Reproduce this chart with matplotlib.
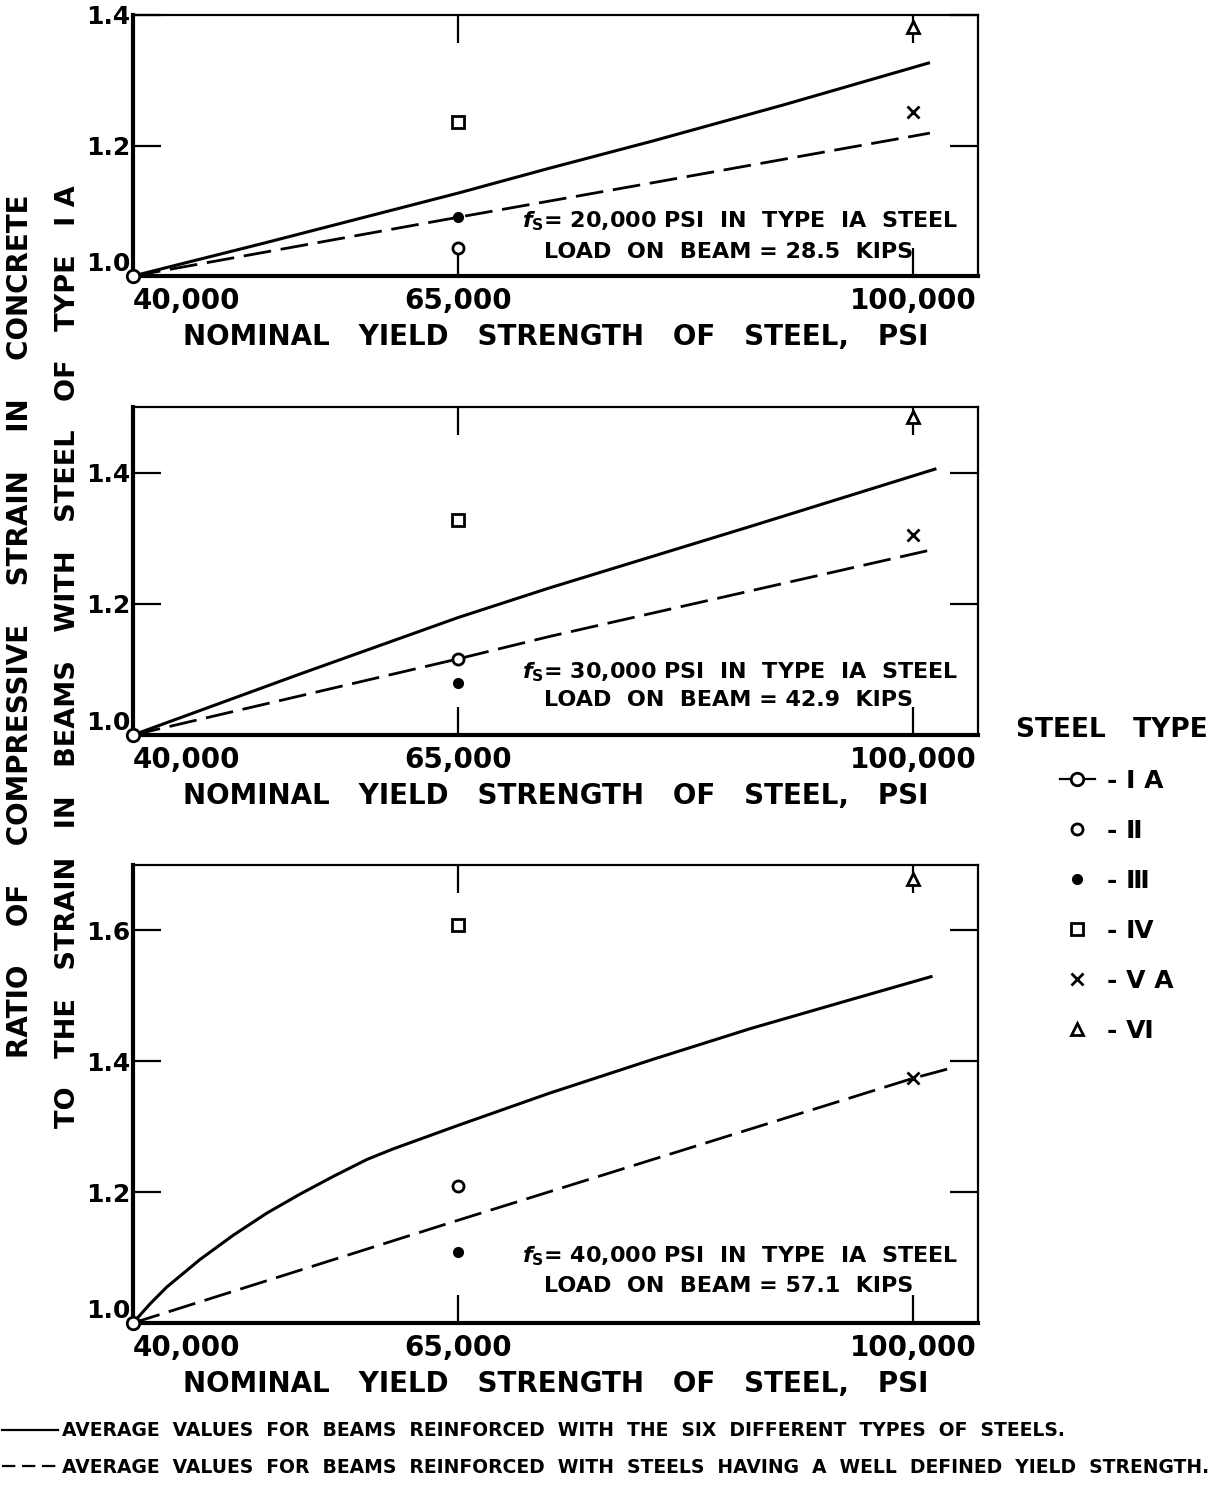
import matplotlib.pyplot as plt
from matplotlib.lines import Line2D

# ----------------------------------------------
# data (yield strength in psi)
# ----------------------------------------------
yield_ticks = [40000, 65000, 100000]
yield_labels = ["40,000", "65,000", "100,000"]

steel_types = ["\u2160 A", "\u2161", "\u2162", "\u2163", "\u2164 A", "\u2165"]
type_yield = [40000, 65000, 65000, 65000, 100000, 100000]

# fs = 20,000 psi
p1_ratio = [1.0, 1.043, 1.091, 1.236, 1.251, 1.381]
p1_solid_x = [40000, 50000, 65000, 72000, 80000, 90000, 101300]
p1_solid_y = [1.0, 1.050, 1.127, 1.165, 1.207, 1.262, 1.327]
p1_dash_x = [40000, 65000, 80000, 101300]
p1_dash_y = [1.0, 1.090, 1.143, 1.219]

# fs = 30,000 psi
p2_ratio = [1.0, 1.116, 1.079, 1.327, 1.305, 1.484]
p2_solid_x = [40000, 52850, 65000, 72000, 87500, 101800]
p2_solid_y = [1.0, 1.093, 1.179, 1.224, 1.318, 1.406]
p2_dash_x = [40000, 65000, 72000, 101800]
p2_dash_y = [1.0, 1.116, 1.150, 1.284]

# fs = 40,000 psi
p3_ratio = [1.0, 1.209, 1.108, 1.608, 1.374, 1.678]
p3_solid_x = [40000, 41300, 42600, 45150, 47700, 50300, 52850, 55400, 58000,
              60000, 65000, 72000, 80000, 87500, 95000, 101500]
p3_solid_y = [1.0, 1.029, 1.055, 1.097, 1.134, 1.168, 1.197, 1.224, 1.250,
              1.266, 1.302, 1.351, 1.403, 1.450, 1.493, 1.530]
p3_dash_x = [40000, 65000, 100000, 103200]
p3_dash_y = [1.0, 1.157, 1.374, 1.391]

panel_notes = [("20,000", "28.5"), ("30,000", "42.9"), ("40,000", "57.1")]
panel_ylim = [(1.0, 1.4), (1.0, 1.5), (1.0, 1.7)]
panel_yticks = [[1.0, 1.2, 1.4], [1.0, 1.2, 1.4], [1.0, 1.2, 1.4, 1.6]]

# ----------------------------------------------
# styling
# ----------------------------------------------
plt.rcParams['font.family'] = ['DejaVu Sans']
plt.rcParams['font.weight'] = 'bold'
plt.rcParams['axes.labelweight'] = 'bold'

marker_style = [
    dict(marker='o', ms=9, mfc='white', mec='black', mew=2),
    dict(marker='o', ms=8, mfc='white', mec='black', mew=2),
    dict(marker='o', ms=7, mfc='black', mec='black', mew=1),
    dict(marker='s', ms=8, mfc='white', mec='black', mew=2),
    dict(marker='x', ms=8, mfc='black', mec='black', mew=2),
    dict(marker='^', ms=9, mfc='white', mec='black', mew=2),
]

dash = (10, 3.5)

fig = plt.figure(figsize=(12.32, 14.85), dpi=100)
W, H = 1232, 1485
boxes = [(15, 276), (407, 735), (865, 1323)]
note_off = [(55, 24), (63, 35), (67, 37)]

series = [
    (p1_ratio, p1_solid_x, p1_solid_y, p1_dash_x, p1_dash_y),
    (p2_ratio, p2_solid_x, p2_solid_y, p2_dash_x, p2_dash_y),
    (p3_ratio, p3_solid_x, p3_solid_y, p3_dash_x, p3_dash_y),
]

for i, (top, bot) in enumerate(boxes):
    ax = fig.add_axes([133 / W, 1 - bot / H, (978 - 133) / W, (bot - top) / H])
    ratio, sx, sy, dx, dy = series[i]

    ax.plot(sx, sy, color='black', lw=2.2, solid_capstyle='butt',
            solid_joinstyle='round')
    ax.plot(dx, dy, color='black', lw=2.0, dashes=dash)
    for t in range(len(ratio)):
        ax.plot([type_yield[t]], [ratio[t]], ls='none', clip_on=False,
                zorder=5, **marker_style[t])

    ax.set_xlim(40000, 105000)
    ax.set_ylim(*panel_ylim[i])
    ax.set_xticks(yield_ticks)
    ax.set_xticklabels(yield_labels)
    ax.set_yticks(panel_yticks[i])
    ax.set_yticklabels([f"{v:.1f}" for v in panel_yticks[i]])
    ax.tick_params(direction='in', top=True, right=True, length=20, width=1.6)
    ax.tick_params(axis='x', pad=8, labelsize=20)
    ax.tick_params(axis='y', pad=2, labelsize=18)
    ax.get_xticklabels()[0].set_ha('left')
    ax.get_yticklabels()[0].set_va('bottom')

    for side in ['left', 'bottom']:
        ax.spines[side].set_linewidth(3)
    for side in ['top', 'right']:
        ax.spines[side].set_linewidth(1.6)

    ax.set_xlabel("NOMINAL   YIELD   STRENGTH   OF   STEEL,   PSI", fontsize=20,
                  labelpad=6)

    fs, load = panel_notes[i]
    off1, off2 = note_off[i]
    ax.annotate(r"$f_{\mathsf{S}}$" + f"= {fs} PSI  IN  TYPE  \u2160A  STEEL",
                xy=(0.718, 0), xycoords='axes fraction',
                xytext=(0, off1 / 1.389), textcoords='offset points',
                ha='center', va='center', fontsize=16)
    ax.annotate(f"LOAD  ON  BEAM = {load}  KIPS",
                xy=(0.705, 0), xycoords='axes fraction',
                xytext=(0, off2 / 1.389), textcoords='offset points',
                ha='center', va='center', fontsize=16)

# y axis title, two lines
fig.text(20 / W, 1 - 626 / H, "RATIO    OF    COMPRESSIVE    STRAIN    IN    CONCRETE",
         rotation=90, ha='center', va='center', fontsize=20)
fig.text(68 / W, 1 - 657 / H,
         "TO   THE   STRAIN   IN   BEAMS   WITH   STEEL   OF   TYPE   \u2160 A",
         rotation=90, ha='center', va='center', fontsize=19.5)

# steel type key
fig.text(1112 / W, 1 - 730 / H, "STEEL   TYPE", ha='center', va='center',
         fontsize=19)
handles = []
for t in range(len(steel_types)):
    st = dict(marker_style[t])
    ls = '-' if t == 0 else 'none'
    handles.append(Line2D([], [], color='black', lw=1.6, ls=ls, **st))
fig.legend(handles, ["- " + s for s in steel_types], loc='upper left',
           bbox_to_anchor=(1037 / W, 1 - 746 / H), frameon=False,
           fontsize=18, handlelength=1.4, handletextpad=0.5, labelspacing=1.04)

# line key at the bottom
key_handles = [Line2D([], [], color='black', lw=1.6),
               Line2D([], [], color='black', lw=1.6, dashes=(6, 3))]
key_labels = ["AVERAGE  VALUES  FOR  BEAMS  REINFORCED  WITH  THE  SIX  DIFFERENT  TYPES  OF  STEELS.",
              "AVERAGE  VALUES  FOR  BEAMS  REINFORCED  WITH  STEELS  HAVING  A  WELL  DEFINED  YIELD  STRENGTH."]
fig.legend(key_handles, key_labels, loc='lower left', bbox_to_anchor=(-0.012, -0.006),
           frameon=False, prop={'weight': 'bold', 'size': 13.5},
           handlelength=3.0, handletextpad=0.2, labelspacing=0.95)

fig.savefig("out.png", dpi=100)
